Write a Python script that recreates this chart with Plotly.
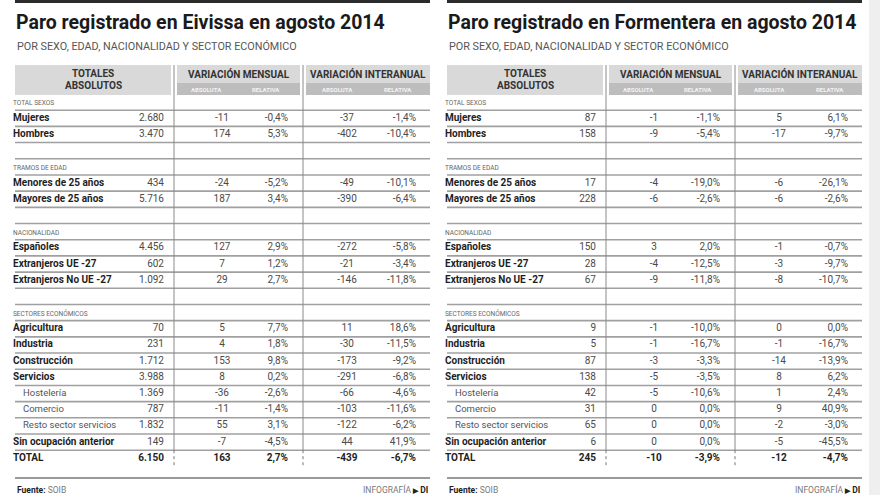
import plotly.graph_objects as go

# ---------------- DATA ----------------
sections = ["TOTAL SEXOS", "TRAMOS DE EDAD", "NACIONALIDAD", "SECTORES ECONÓMICOS"]
section_items = [
    ["Mujeres", "Hombres"],
    ["Menores de 25 años", "Mayores de 25 años"],
    ["Españoles", "Extranjeros UE -27", "Extranjeros No UE -27"],
    ["Agricultura", "Industria", "Construcción", "Servicios", "Hostelería",
     "Comercio", "Resto sector servicios", "Sin ocupación anterior"],
]
indented = ["Hostelería", "Comercio", "Resto sector servicios"]
total_label = "TOTAL"

titles = ["Paro registrado en Eivissa en agosto 2014",
          "Paro registrado en Formentera en agosto 2014"]
subtitle = "POR SEXO, EDAD, NACIONALIDAD Y SECTOR ECONÓMICO"
source = "SOIB"

# order: items of all sections, then TOTAL
eiv_total = [2680, 3470, 434, 5716, 4456, 602, 1092, 70, 231, 1712, 3988, 1369, 787, 1832, 149, 6150]
eiv_mens_abs = [-11, 174, -24, 187, 127, 7, 29, 5, 4, 153, 8, -36, -11, 55, -7, 163]
eiv_mens_rel = [-0.4, 5.3, -5.2, 3.4, 2.9, 1.2, 2.7, 7.7, 1.8, 9.8, 0.2, -2.6, -1.4, 3.1, -4.5, 2.7]
eiv_inter_abs = [-37, -402, -49, -390, -272, -21, -146, 11, -30, -173, -291, -66, -103, -122, 44, -439]
eiv_inter_rel = [-1.4, -10.4, -10.1, -6.4, -5.8, -3.4, -11.8, 18.6, -11.5, -9.2, -6.8, -4.6, -11.6, -6.2, 41.9, -6.7]

for_total = [87, 158, 17, 228, 150, 28, 67, 9, 5, 87, 138, 42, 31, 65, 6, 245]
for_mens_abs = [-1, -9, -4, -6, 3, -4, -9, -1, -1, -3, -5, -5, 0, 0, 0, -10]
for_mens_rel = [-1.1, -5.4, -19.0, -2.6, 2.0, -12.5, -11.8, -10.0, -16.7, -3.3, -3.5, -10.6, 0.0, 0.0, 0.0, -3.9]
for_inter_abs = [5, -17, -6, -6, -1, -3, -8, 0, -1, -14, 8, 1, 9, -2, -5, -12]
for_inter_rel = [6.1, -9.7, -26.1, -2.6, -0.7, -9.7, -10.7, 0.0, -16.7, -13.9, 6.2, 2.4, 40.9, -3.0, -45.5, -4.7]

# ---------------- LAYOUT HELPERS ----------------
FONT = "Roboto, Liberation Sans, sans-serif"
W, H = 880, 495
ROW0, PITCH = 102.1, 16.19


def py(p):
    return (p - ROW0) / PITCH


def fmt_int(v):
    s = f"{abs(v):,}".replace(",", ".")
    return ("-" if v < 0 else "") + s


def fmt_pct(v):
    s = f"{abs(v):.1f}".replace(".", ",") + "%"
    return ("-" if v < 0 else "") + s


# build row structure
row_labels, row_kind = [], []
for si, (sec, items) in enumerate(zip(sections, section_items)):
    if si > 0:
        row_labels.append("")
        row_kind.append("blank")
    row_labels.append(sec)
    row_kind.append("section")
    for it in items:
        row_labels.append(it)
        row_kind.append("indent" if it in indented else "item")
row_labels.append(total_label)
row_kind.append("total")
data_rows = [i for i, k in enumerate(row_kind) if k in ("item", "indent", "total")]

fig = go.Figure()
shapes, annotations = [], []

panels = [
    (0, eiv_total, eiv_mens_abs, eiv_mens_rel, eiv_inter_abs, eiv_inter_rel, titles[0]),
    (432, for_total, for_mens_abs, for_mens_rel, for_inter_abs, for_inter_rel, titles[1]),
]

# light strip at right edge
shapes.append(dict(type="rect", xref="x", yref="paper", x0=869, x1=880, y0=0, y1=1,
                   fillcolor="#efefef", line=dict(width=0), layer="below"))

for off, tot, mabs, mrel, iabs, irel, title in panels:
    L, R = 15 + off, 430 + off
    # top bar
    shapes.append(dict(type="line", x0=L, x1=R, y0=py(1.5), y1=py(1.5),
                       line=dict(color="#2b2b2b", width=3)))
    annotations.append(dict(x=L - 1, y=py(22), text="<b>" + title + "</b>", showarrow=False,
                            xanchor="left", yanchor="middle",
                            font=dict(family=FONT, size=19.5, color="#1a1a1a")))
    annotations.append(dict(x=L, y=py(46), text=subtitle, showarrow=False,
                            xanchor="left", yanchor="middle",
                            font=dict(family=FONT, size=10.8, color="#555555")))
    # header boxes
    for x0, x1 in [(L, 171 + off), (177 + off, 300 + off), (306 + off, R)]:
        shapes.append(dict(type="rect", x0=x0, x1=x1, y0=py(65), y1=py(95),
                           fillcolor="#d9d9d9", line=dict(width=0), layer="below"))
    for x0, x1 in [(177 + off, 300 + off), (306 + off, R)]:
        shapes.append(dict(type="rect", x0=x0, x1=x1, y0=py(83), y1=py(95),
                           fillcolor="#bdbdbd", line=dict(width=0), layer="below"))
    hdr = dict(showarrow=False, xanchor="center", yanchor="middle")
    annotations.append(dict(x=93 + off, y=py(73), text="<b>TOTALES</b>",
                            font=dict(family=FONT, size=10, color="#333"), **hdr))
    annotations.append(dict(x=93 + off, y=py(85), text="<b>ABSOLUTOS</b>",
                            font=dict(family=FONT, size=10, color="#333"), **hdr))
    annotations.append(dict(x=239 + off, y=py(74), text="<b>VARIACIÓN MENSUAL</b>",
                            font=dict(family=FONT, size=10, color="#333"), **hdr))
    annotations.append(dict(x=368 + off, y=py(74), text="<b>VARIACIÓN INTERANUAL</b>",
                            font=dict(family=FONT, size=10, color="#333"), **hdr))
    for cx, t in [(206, "ABSOLUTA"), (266, "RELATIVA"), (337, "ABSOLUTA"), (398, "RELATIVA")]:
        annotations.append(dict(x=cx + off, y=py(89.5), text="<b>" + t + "</b>",
                                font=dict(family=FONT, size=6, color="#f4f4f4"), **hdr))
    # row separator lines
    for i in range(len(row_kind) - 1):
        shapes.append(dict(type="line", x0=L, x1=R, y0=i + 0.5, y1=i + 0.5,
                           line=dict(color="#a0a0a0", width=1.6)))
    # vertical separators
    nrow = len(row_kind)
    for vx in (174 + off, 303 + off):
        shapes.append(dict(type="line", x0=vx, x1=vx, y0=py(65), y1=nrow - 1.5,
                           line=dict(color="#8a8a8a", width=1)))
        shapes.append(dict(type="line", x0=vx, x1=vx, y0=nrow - 1.5, y1=nrow - 0.45,
                           line=dict(color="#777", width=1, dash="dot")))
    # footer
    shapes.append(dict(type="line", x0=L, x1=R, y0=py(478), y1=py(478),
                       line=dict(color="#9a9a9a", width=2)))
    annotations.append(dict(x=L, y=py(489.5), text="<b>Fuente:</b> <span style='color:#777'>" + source + "</span>",
                            showarrow=False, xanchor="left", yanchor="middle",
                            font=dict(family=FONT, size=8.5, color="#222")))
    annotations.append(dict(x=R, y=py(489.5),
                            text="<span style='color:#777'>INFOGRAFÍA</span> <b><span style='font-size:7px'>▶</span> DI</b>",
                            showarrow=False, xanchor="right", yanchor="middle",
                            font=dict(family=FONT, size=8.5, color="#222")))

    # section labels
    sec_rows = [i for i, k in enumerate(row_kind) if k == "section"]
    fig.add_trace(go.Scatter(
        x=[L - 2] * len(sec_rows), y=[i + 0.1 for i in sec_rows],
        text=[row_labels[i] for i in sec_rows], mode="text", textposition="middle right",
        textfont=dict(family=FONT, size=6.5, color="#666"), hoverinfo="skip", showlegend=False))
    # item labels
    lab_text, lab_x = [], []
    for i in data_rows:
        k = row_kind[i]
        if k == "indent":
            lab_text.append(f"<span style='color:#555;font-size:9.5px'>{row_labels[i]}</span>")
            lab_x.append(L + 8)
        else:
            lab_text.append(f"<b>{row_labels[i]}</b>")
            lab_x.append(L - 2)
    fig.add_trace(go.Scatter(
        x=lab_x, y=data_rows, text=lab_text, mode="text", textposition="middle right",
        textfont=dict(family=FONT, size=10, color="#1e1e1e"), hoverinfo="skip", showlegend=False))

    # value columns
    def vals(seq, f):
        out = []
        for i, v in zip(data_rows, seq):
            s = f(v)
            out.append(f"<b>{s}</b>" if row_kind[i] == "total" else s)
        return out

    cols = [
        (162, tot, fmt_int, "middle left"),
        (222, mabs, fmt_int, "middle center"),
        (286, mrel, fmt_pct, "middle left"),
        (347, iabs, fmt_int, "middle center"),
        (414, irel, fmt_pct, "middle left"),
    ]
    for cx, seq, f, pos in cols:
        xx = cx + off + (2 if pos == "middle left" else 0)
        colors = ["#1e1e1e" if row_kind[i] == "total" else "#4a4a4a" for i in data_rows]
        fig.add_trace(go.Scatter(
            x=[xx] * len(data_rows), y=data_rows, text=vals(seq, f), mode="text",
            textposition=pos, textfont=dict(family=FONT, size=10, color=colors),
            hoverinfo="skip", showlegend=False))

fig.update_layout(
    width=W, height=H, margin=dict(l=0, r=0, t=0, b=0),
    paper_bgcolor="white", plot_bgcolor="white",
    xaxis=dict(range=[0, W], visible=False, fixedrange=True),
    yaxis=dict(range=[py(H), py(0)], visible=False, fixedrange=True),
    shapes=shapes, annotations=annotations,
)
fig.write_html("out.html", config={"displayModeBar": False},
               post_script="document.body.style.margin='0';document.body.style.overflow='hidden';")
